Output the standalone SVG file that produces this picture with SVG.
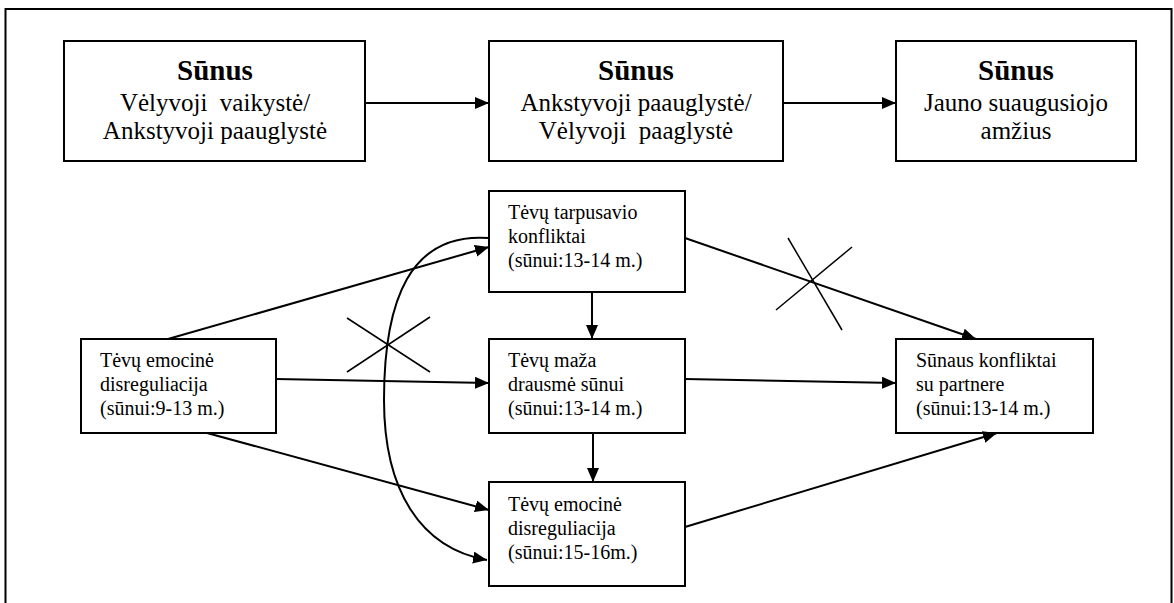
<svg xmlns="http://www.w3.org/2000/svg" width="1174" height="603" viewBox="0 0 1174 603">
<style>
.box{fill:#fff;stroke:#000;stroke-width:2}
.t{font-family:"Liberation Serif","Times New Roman",serif;fill:#000}
.big{font-size:25px}
.ttl{font-size:29px;font-weight:bold}
.sm{font-size:20px}
.ln{fill:none;stroke:#000;stroke-width:2}
.x{fill:none;stroke:#000;stroke-width:1.5}
</style>
<defs>
<marker id="ah" markerUnits="userSpaceOnUse" markerWidth="15" markerHeight="13" refX="14" refY="6" orient="auto">
<path d="M0,0 L14,6 L0,12 z" fill="#000"/>
</marker>
</defs>
<rect x="5.5" y="9" width="1166" height="602" fill="#fff" stroke="#000" stroke-width="2"/>

<g id="n1">
<rect class="box" x="64" y="41" width="301" height="120"/>
<text class="t ttl" x="215" y="80" text-anchor="middle">Sūnus</text>
<text class="t big" x="215" y="111" text-anchor="middle" xml:space="preserve">Vėlyvoji  vaikystė/</text>
<text class="t big" x="215" y="139" text-anchor="middle">Ankstyvoji paauglystė</text>
</g>
<g id="n2">
<rect class="box" x="489" y="41" width="294" height="120"/>
<text class="t ttl" x="636" y="80" text-anchor="middle">Sūnus</text>
<text class="t big" x="636" y="111" text-anchor="middle">Ankstyvoji paauglystė/</text>
<text class="t big" x="636" y="139" text-anchor="middle" xml:space="preserve">Vėlyvoji  paaglystė</text>
</g>
<g id="n3">
<rect class="box" x="896" y="41" width="240" height="120"/>
<text class="t ttl" x="1016" y="80" text-anchor="middle">Sūnus</text>
<text class="t big" x="1016" y="111" text-anchor="middle">Jauno suaugusiojo</text>
<text class="t big" x="1016" y="139" text-anchor="middle">amžius</text>
</g>
<g id="n4">
<rect class="box" x="489" y="191" width="196" height="101"/>
<text class="t sm" x="508" y="219">Tėvų tarpusavio</text>
<text class="t sm" x="508" y="243">konfliktai</text>
<text class="t sm" x="508" y="267">(sūnui:13-14 m.)</text>
</g>
<g id="n5">
<rect class="box" x="81" y="339" width="195" height="94"/>
<text class="t sm" x="100" y="367">Tėvų emocinė</text>
<text class="t sm" x="100" y="391">disreguliacija</text>
<text class="t sm" x="100" y="415">(sūnui:9-13 m.)</text>
</g>
<g id="n6">
<rect class="box" x="489" y="339" width="196" height="94"/>
<text class="t sm" x="508" y="367">Tėvų maža</text>
<text class="t sm" x="508" y="391">drausmė sūnui</text>
<text class="t sm" x="508" y="415">(sūnui:13-14 m.)</text>
</g>
<g id="n7">
<rect class="box" x="896" y="339" width="197" height="94"/>
<text class="t sm" x="916" y="367">Sūnaus konfliktai</text>
<text class="t sm" x="916" y="391">su partnere</text>
<text class="t sm" x="916" y="415">(sūnui:13-14 m.)</text>
</g>
<g id="n8">
<rect class="box" x="489" y="482" width="196" height="104"/>
<text class="t sm" x="508" y="511">Tėvų emocinė</text>
<text class="t sm" x="508" y="535">disreguliacija</text>
<text class="t sm" x="508" y="559">(sūnui:15-16m.)</text>
</g>

<g id="connectors">
<line class="ln" x1="365" y1="103" x2="489" y2="103" marker-end="url(#ah)"/>
<line class="ln" x1="783" y1="103" x2="896" y2="103" marker-end="url(#ah)"/>
<line class="ln" x1="168" y1="339" x2="489" y2="247" marker-end="url(#ah)"/>
<path class="ln" d="M489,238 C410,232 384,300 384,400 C384,490 420,548 487,560" marker-end="url(#ah)"/>
<line class="ln" x1="276" y1="379" x2="489" y2="383" marker-end="url(#ah)"/>
<line class="ln" x1="207" y1="433" x2="489" y2="510" marker-end="url(#ah)"/>
<line class="ln" x1="592" y1="292" x2="592" y2="339" marker-end="url(#ah)"/>
<line class="ln" x1="593" y1="433" x2="593" y2="482" marker-end="url(#ah)"/>
<line class="ln" x1="685" y1="238" x2="976" y2="339" marker-end="url(#ah)"/>
<line class="ln" x1="685" y1="379" x2="896" y2="383" marker-end="url(#ah)"/>
<line class="ln" x1="685" y1="527" x2="997" y2="433" marker-end="url(#ah)"/>
<line class="x" x1="347" y1="318" x2="430" y2="372"/>
<line class="x" x1="430" y1="317" x2="347" y2="372"/>
<line class="x" x1="788" y1="238" x2="842" y2="330"/>
<line class="x" x1="852" y1="247" x2="776" y2="310"/>
</g>
</svg>
